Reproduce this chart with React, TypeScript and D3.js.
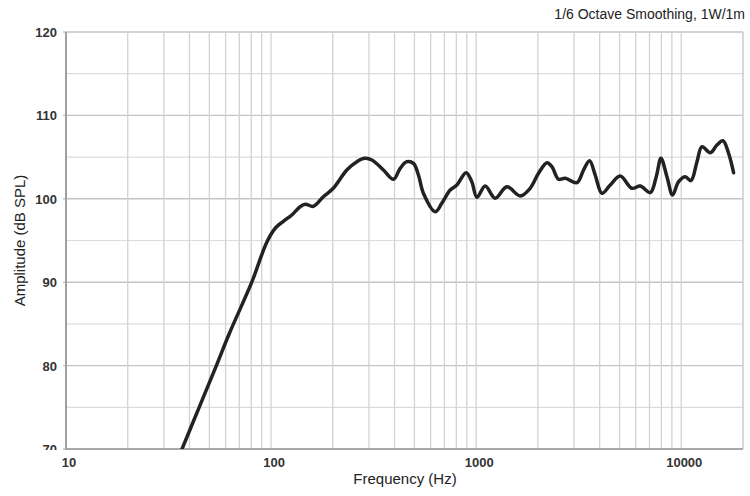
import React from 'react';
import * as d3 from 'd3';

// frequency response (Hz, dB SPL)
const freqs = [
  36.8, 44.6, 54.1, 62.2, 80.5, 95.3, 105, 114.8, 126.2, 138.5, 147, 160.7, 179.8, 201, 234, 262,
  287, 310, 353, 395, 426, 459, 494.6, 523, 553, 631, 680, 747, 805, 893, 952, 1008, 1107, 1238,
  1411, 1640, 1833, 2014, 2213, 2340, 2521, 2717, 3098, 3339, 3572, 3806, 4103, 4506, 5036, 5748,
  6310, 7063, 7551, 7962, 8515, 9071, 9706, 10460, 11147, 11930, 12620, 13850, 14930, 15970, 17010,
  17990,
];
const spl = [
  70, 75, 80, 83.7, 90, 94.8, 96.5, 97.3, 98.06, 99.05, 99.35, 99.1, 100.25, 101.26, 103.45, 104.45,
  104.85, 104.65, 103.45, 102.34, 103.65, 104.45, 104.25, 102.85, 100.66, 98.45, 99.46, 101.05,
  101.65, 103.13, 102.05, 100.18, 101.53, 100.06, 101.45, 100.34, 101.26, 103.06, 104.33, 103.85,
  102.34, 102.46, 101.93, 103.45, 104.57, 102.85, 100.66, 101.65, 102.73, 101.26, 101.53, 100.74,
  102.65, 104.85, 102.65, 100.46, 102.05, 102.65, 102.17, 104.45, 106.25, 105.53, 106.45, 106.96,
  105.46, 103.13,
];

const xTicks = [10, 100, 1000, 10000];
const yTicks = [70, 80, 90, 100, 110, 120];
const yMinor = [75, 85, 95, 105, 115];

const W = 750;
const H = 496;
const left = 66;
const right = 743;
const top = 32;
const bottom = 449;

export default function App() {
  const x = d3.scaleLog().domain([10, 20000]).range([left, right]);
  const y = d3.scaleLinear().domain([70, 120]).range([bottom, top]);

  // 20..90, 200..900, ... vertical grid
  const vGrid: number[] = [];
  for (let dec = 10; dec <= 10000; dec *= 10) {
    for (let m = 1; m <= 9; m++) {
      const f = dec * m;
      if (f > 10 && f <= 20000) vGrid.push(f);
    }
  }
  vGrid.push(20000);

  const pts = freqs.map((f, i) => [f, spl[i]] as [number, number]);
  const line = d3
    .line<[number, number]>()
    .x((d) => x(d[0]))
    .y((d) => y(d[1]))
    .curve(d3.curveCatmullRom.alpha(0.5));

  const font = '"Liberation Sans", Arial, sans-serif';

  return (
    <svg
      width={W}
      height={H}
      style={{ position: 'absolute', left: 0, top: 0, background: '#fff' }}
      fontFamily={font}
    >
      <defs>
        <clipPath id="plot">
          <rect x={left} y={top} width={right - left} height={bottom - top} />
        </clipPath>
        <clipPath id="ylab">
          <rect x={0} y={0} width={left} height={bottom + 1} />
        </clipPath>
      </defs>

      <text x={745} y={19} textAnchor="end" fontSize={14} fill="#222">
        1/6 Octave Smoothing, 1W/1m
      </text>

      {/* grid */}
      {yMinor.map((v) => (
        <line key={'m' + v} x1={left} x2={right} y1={y(v)} y2={y(v)} stroke="#dcdcdc" strokeWidth={1.2} />
      ))}
      {yTicks.map((v) => (
        <line key={'y' + v} x1={left - 3} x2={right} y1={y(v)} y2={y(v)} stroke="#c4c4c4" strokeWidth={1.4} />
      ))}
      {vGrid.map((f) => (
        <line key={'v' + f} x1={x(f)} x2={x(f)} y1={top} y2={bottom} stroke="#d2d2d2" strokeWidth={1.3} />
      ))}

      {/* axes */}
      <line x1={left} x2={left} y1={top} y2={bottom + 1} stroke="#a0a0a0" strokeWidth={2} />
      <line x1={left} x2={right} y1={bottom} y2={bottom} stroke="#a8a8a8" strokeWidth={2} />

      <g clipPath="url(#ylab)">
        {yTicks.map((v) => (
          <text
            key={'yl' + v}
            x={57}
            y={y(v) + 5}
            textAnchor="end"
            fontSize={13}
            fontWeight="bold"
            fill="#333"
          >
            {v}
          </text>
        ))}
      </g>
      {xTicks.map((f) => (
        <text key={'xl' + f} x={x(f) + 3} y={467} textAnchor="middle" fontSize={13} fontWeight="bold" fill="#333">
          {f}
        </text>
      ))}

      <text x={405} y={484} textAnchor="middle" fontSize={15} fill="#222">
        Frequency (Hz)
      </text>
      <text transform={`translate(25,${(top + bottom) / 2}) rotate(-90)`} textAnchor="middle" fontSize={15} fill="#222">
        Amplitude (dB SPL)
      </text>

      <path
        d={line(pts) ?? ''}
        clipPath="url(#plot)"
        fill="none"
        stroke="#222"
        strokeWidth={3.5}
        strokeLinejoin="round"
        strokeLinecap="round"
      />
    </svg>
  );
}
